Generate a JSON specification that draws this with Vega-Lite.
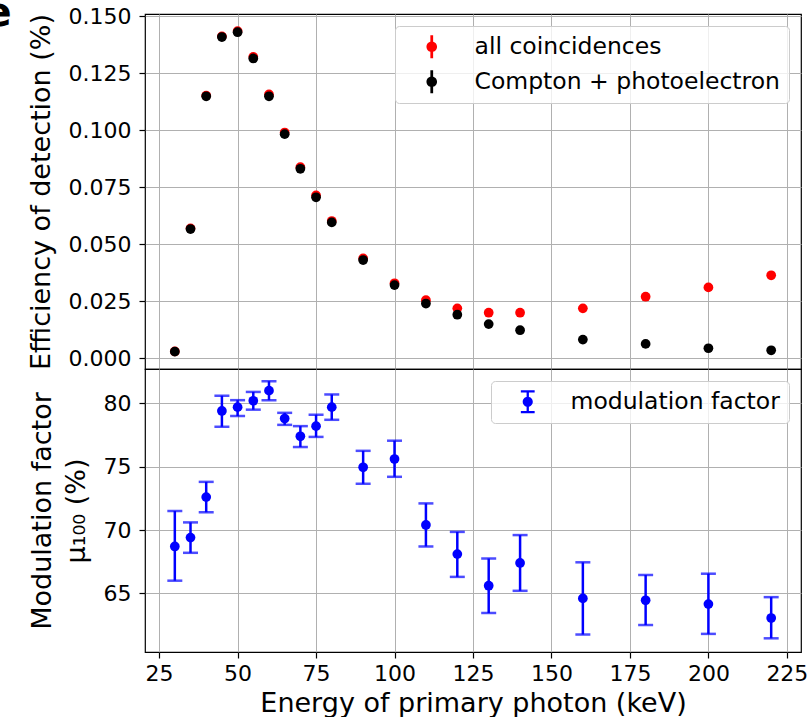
{
  "$schema": "https://vega.github.io/schema/vega-lite/v6.json",
  "padding": {"left": -16, "top": -7, "right": 0, "bottom": 0},
  "autosize": {"type": "pad"},
  "background": "white",
  "title": {"text": "e", "anchor": "start", "fontSize": 40, "fontWeight": "bold", "font": "DejaVu Sans", "color": "black", "dx": -42, "offset": -29},
  "config": {
    "font": "DejaVu Sans",
    "view": {"stroke": "black", "strokeWidth": 1.2},
    "axis": {"domain": false, "grid": true, "gridColor": "#b0b0b0", "gridWidth": 1, "gridOpacity": 1, "tickColor": "black", "tickSize": 6, "tickWidth": 1.2, "labelFont": "DejaVu Sans", "labelFontSize": 22, "labelColor": "black", "labelPadding": 8, "titleFont": "DejaVu Sans", "titleFontSize": 27, "titleFontWeight": "normal", "titleColor": "black"},
    "legend": {"labelFont": "DejaVu Sans", "labelFontSize": 23.5, "labelColor": "black", "fillColor": "rgba(255,255,255,0.8)", "strokeColor": "#cccccc", "cornerRadius": 4, "padding": 9, "rowPadding": 10, "symbolOffset": 16, "labelOffset": 31, "symbolStrokeWidth": 0, "symbolSize": 529, "labelLimit": 400}
  },
  "resolve": {"scale": {"color": "independent"}, "legend": {"color": "independent"}},
  "spacing": 0,
  "bounds": "flush",
  "vconcat": [
    {
      "width": 656,
      "height": 355,
      "data": {"values": [
        {"energy": 30, "series": "all coincidences", "eff": 0.0030},
        {"energy": 35, "series": "all coincidences", "eff": 0.0570},
        {"energy": 40, "series": "all coincidences", "eff": 0.1152},
        {"energy": 45, "series": "all coincidences", "eff": 0.1412},
        {"energy": 50, "series": "all coincidences", "eff": 0.1435},
        {"energy": 55, "series": "all coincidences", "eff": 0.1322},
        {"energy": 60, "series": "all coincidences", "eff": 0.1157},
        {"energy": 65, "series": "all coincidences", "eff": 0.0990},
        {"energy": 70, "series": "all coincidences", "eff": 0.0838},
        {"energy": 75, "series": "all coincidences", "eff": 0.0714},
        {"energy": 80, "series": "all coincidences", "eff": 0.0602},
        {"energy": 90, "series": "all coincidences", "eff": 0.0438},
        {"energy": 100, "series": "all coincidences", "eff": 0.0329},
        {"energy": 110, "series": "all coincidences", "eff": 0.0255},
        {"energy": 120, "series": "all coincidences", "eff": 0.0219},
        {"energy": 130, "series": "all coincidences", "eff": 0.0200},
        {"energy": 140, "series": "all coincidences", "eff": 0.0200},
        {"energy": 160, "series": "all coincidences", "eff": 0.0219},
        {"energy": 180, "series": "all coincidences", "eff": 0.0270},
        {"energy": 200, "series": "all coincidences", "eff": 0.0311},
        {"energy": 220, "series": "all coincidences", "eff": 0.0364},
        {"energy": 30, "series": "Compton + photoelectron", "eff": 0.0029},
        {"energy": 35, "series": "Compton + photoelectron", "eff": 0.0567},
        {"energy": 40, "series": "Compton + photoelectron", "eff": 0.1149},
        {"energy": 45, "series": "Compton + photoelectron", "eff": 0.1409},
        {"energy": 50, "series": "Compton + photoelectron", "eff": 0.1430},
        {"energy": 55, "series": "Compton + photoelectron", "eff": 0.1315},
        {"energy": 60, "series": "Compton + photoelectron", "eff": 0.1149},
        {"energy": 65, "series": "Compton + photoelectron", "eff": 0.0983},
        {"energy": 70, "series": "Compton + photoelectron", "eff": 0.0831},
        {"energy": 75, "series": "Compton + photoelectron", "eff": 0.0706},
        {"energy": 80, "series": "Compton + photoelectron", "eff": 0.0596},
        {"energy": 90, "series": "Compton + photoelectron", "eff": 0.0431},
        {"energy": 100, "series": "Compton + photoelectron", "eff": 0.0321},
        {"energy": 110, "series": "Compton + photoelectron", "eff": 0.0240},
        {"energy": 120, "series": "Compton + photoelectron", "eff": 0.0191},
        {"energy": 130, "series": "Compton + photoelectron", "eff": 0.0150},
        {"energy": 140, "series": "Compton + photoelectron", "eff": 0.0123},
        {"energy": 160, "series": "Compton + photoelectron", "eff": 0.0082},
        {"energy": 180, "series": "Compton + photoelectron", "eff": 0.0063},
        {"energy": 200, "series": "Compton + photoelectron", "eff": 0.0044},
        {"energy": 220, "series": "Compton + photoelectron", "eff": 0.0035}
      ]},
      "mark": {"type": "point", "filled": true, "size": 95, "opacity": 1},
      "encoding": {
        "x": {"field": "energy", "type": "quantitative", "scale": {"domain": [20.5, 229.5], "nice": false, "zero": false}, "axis": {"values": [25, 50, 75, 100, 125, 150, 175, 200, 225], "labels": false, "ticks": false, "title": null}},
        "y": {"field": "eff", "type": "quantitative", "scale": {"domain": [-0.0047, 0.151], "nice": false, "zero": false}, "axis": {"values": [0, 0.025, 0.05, 0.075, 0.1, 0.125, 0.15], "format": ".3f", "title": "Efficiency of detection (%)", "titlePadding": 13}},
        "color": {"field": "series", "type": "nominal", "scale": {"domain": ["all coincidences", "Compton + photoelectron"], "range": ["#ff0000", "#000000"]}, "legend": {"title": null, "orient": "top-right", "offset": 12, "symbolType": "M-0.46,0A0.46,0.46 0 1 1 0.46,0A0.46,0.46 0 1 1 -0.46,0Z M-0.12,-1H0.12V1H-0.12Z", "symbolSize": 529}}
      }
    },
    {
      "width": 656,
      "height": 283,
      "data": {"values": [
        {"energy": 30, "series": "modulation factor", "mu": 68.7, "lo": 66.0, "hi": 71.5},
        {"energy": 35, "series": "modulation factor", "mu": 69.4, "lo": 68.2, "hi": 70.6},
        {"energy": 40, "series": "modulation factor", "mu": 72.6, "lo": 71.4, "hi": 73.8},
        {"energy": 45, "series": "modulation factor", "mu": 79.4, "lo": 78.15, "hi": 80.6},
        {"energy": 50, "series": "modulation factor", "mu": 79.7, "lo": 79.0, "hi": 80.25},
        {"energy": 55, "series": "modulation factor", "mu": 80.2, "lo": 79.5, "hi": 80.9},
        {"energy": 60, "series": "modulation factor", "mu": 81.0, "lo": 80.25, "hi": 81.75},
        {"energy": 65, "series": "modulation factor", "mu": 78.8, "lo": 78.3, "hi": 79.25},
        {"energy": 70, "series": "modulation factor", "mu": 77.4, "lo": 76.55, "hi": 78.2},
        {"energy": 75, "series": "modulation factor", "mu": 78.2, "lo": 77.35, "hi": 79.1},
        {"energy": 80, "series": "modulation factor", "mu": 79.7, "lo": 78.7, "hi": 80.7},
        {"energy": 90, "series": "modulation factor", "mu": 74.95, "lo": 73.65, "hi": 76.25},
        {"energy": 100, "series": "modulation factor", "mu": 75.6, "lo": 74.2, "hi": 77.05},
        {"energy": 110, "series": "modulation factor", "mu": 70.4, "lo": 68.7, "hi": 72.1},
        {"energy": 120, "series": "modulation factor", "mu": 68.1, "lo": 66.3, "hi": 69.85},
        {"energy": 130, "series": "modulation factor", "mu": 65.6, "lo": 63.45, "hi": 67.75},
        {"energy": 140, "series": "modulation factor", "mu": 67.4, "lo": 65.2, "hi": 69.6},
        {"energy": 160, "series": "modulation factor", "mu": 64.6, "lo": 61.75, "hi": 67.45},
        {"energy": 180, "series": "modulation factor", "mu": 64.45, "lo": 62.5, "hi": 66.45},
        {"energy": 200, "series": "modulation factor", "mu": 64.15, "lo": 61.8, "hi": 66.55},
        {"energy": 220, "series": "modulation factor", "mu": 63.05, "lo": 61.45, "hi": 64.7}
      ]},
      "encoding": {
        "x": {"field": "energy", "type": "quantitative", "scale": {"domain": [20.5, 229.5], "nice": false, "zero": false}, "axis": {"values": [25, 50, 75, 100, 125, 150, 175, 200, 225], "format": "d", "title": "Energy of primary photon (keV)", "labelPadding": 5, "titlePadding": 6}}
      },
      "layer": [
        {
          "mark": {"type": "rule", "color": "#0000ff", "strokeWidth": 2.5},
          "encoding": {
            "y": {"field": "lo", "type": "quantitative", "scale": {"domain": [60.37, 82.71], "nice": false, "zero": false}, "axis": {"values": [65, 70, 75, 80], "title": ["Modulation factor", "μ₁₀₀ (%)"], "titlePadding": 13, "titleLineHeight": 34}},
            "y2": {"field": "hi"}
          }
        },
        {
          "mark": {"type": "tick", "orient": "horizontal", "color": "#0000ff", "size": 15, "thickness": 2.5},
          "encoding": {
            "y": {"field": "lo", "type": "quantitative", "scale": {"domain": [60.37, 82.71], "nice": false, "zero": false}, "axis": {"values": [65, 70, 75, 80], "title": ["Modulation factor", "μ₁₀₀ (%)"], "titlePadding": 13, "titleLineHeight": 34}}
          }
        },
        {
          "mark": {"type": "tick", "orient": "horizontal", "color": "#0000ff", "size": 15, "thickness": 2.5},
          "encoding": {
            "y": {"field": "hi", "type": "quantitative", "scale": {"domain": [60.37, 82.71], "nice": false, "zero": false}, "axis": {"values": [65, 70, 75, 80], "title": ["Modulation factor", "μ₁₀₀ (%)"], "titlePadding": 13, "titleLineHeight": 34}}
          }
        },
        {
          "mark": {"type": "point", "filled": true, "size": 95, "opacity": 1},
          "encoding": {
            "y": {"field": "mu", "type": "quantitative", "scale": {"domain": [60.37, 82.71], "nice": false, "zero": false}, "axis": {"values": [65, 70, 75, 80], "title": ["Modulation factor", "μ₁₀₀ (%)"], "titlePadding": 13, "titleLineHeight": 34}},
            "color": {"field": "series", "type": "nominal", "scale": {"domain": ["modulation factor"], "range": ["#0000ff"]}, "legend": {"title": null, "orient": "top-right", "offset": 12, "symbolType": "M-0.44,0A0.44,0.44 0 1 1 0.44,0A0.44,0.44 0 1 1 -0.44,0Z M-0.1,-1H0.1V1H-0.1Z M-0.6,-1H0.6V-0.8H-0.6Z M-0.6,0.8H0.6V1H-0.6Z", "symbolSize": 529}}
          }
        }
      ]
    }
  ]
}
